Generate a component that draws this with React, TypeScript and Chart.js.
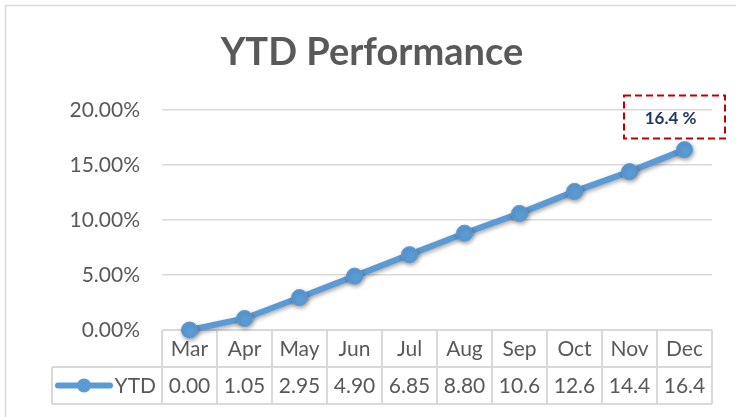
import React, { useEffect, useRef } from "react";
import { Chart, registerables } from "chart.js";

Chart.register(...registerables);

const chartTitle = "YTD Performance";
const seriesName = "YTD";
const months = ["Mar", "Apr", "May", "Jun", "Jul", "Aug", "Sep", "Oct", "Nov", "Dec"];
const ytd = [0, 1.05, 2.95, 4.9, 6.85, 8.8, 10.6, 12.6, 14.4, 16.4];
const ytdLabels = ["0.00", "1.05", "2.95", "4.90", "6.85", "8.80", "10.6", "12.6", "14.4", "16.4"];
const yMin = 0;
const yMax = 20;
const yStep = 5;
const calloutText = "16.4 %";

const LINE = "#5B9BD5";
const TEXT = "#595959";
const GRID = "#D9D9D9";
const FONT = "Lato, 'Open Sans', sans-serif";

const framePlugin = {
  id: "frame",
  beforeDraw(chart: any) {
    const ctx = chart.ctx;
    ctx.save();
    ctx.fillStyle = "#ffffff";
    ctx.fillRect(0, 0, chart.width, chart.height);
    ctx.strokeStyle = GRID;
    ctx.lineWidth = 1.5;
    ctx.strokeRect(5.5, 5.5, chart.width + 20, chart.height + 20);
    // title
    ctx.fillStyle = TEXT;
    ctx.font = `bold 38px ${FONT}`;
    ctx.textAlign = "center";
    ctx.textBaseline = "middle";
    ctx.fillText(chartTitle, chart.width / 2 + 4, 53);
    ctx.restore();
  },
};

const shadowPlugin = {
  id: "lineShadow",
  beforeDatasetDraw(chart: any) {
    const ctx = chart.ctx;
    ctx.save();
    ctx.shadowColor = "rgba(0,0,0,0.35)";
    ctx.shadowBlur = 4;
    ctx.shadowOffsetX = 1;
    ctx.shadowOffsetY = 2;
  },
  afterDatasetDraw(chart: any) {
    chart.ctx.restore();
  },
};

const tablePlugin = {
  id: "dataTable",
  beforeDatasetsDraw(chart: any) {
    const ctx = chart.ctx;
    const area = chart.chartArea;
    const xs = chart.scales.x;
    const n = months.length;
    const cellW = (area.right - area.left) / n;
    const rowH = 37;
    const top = area.bottom;
    const mid = top + rowH;
    const bot = mid + rowH;
    const legendLeft = 52;
    ctx.save();
    ctx.strokeStyle = GRID;
    ctx.lineWidth = 2;
    ctx.beginPath();
    ctx.moveTo(area.left, top);
    ctx.lineTo(area.right, top);
    ctx.moveTo(legendLeft, mid);
    ctx.lineTo(area.right, mid);
    ctx.moveTo(legendLeft, bot);
    ctx.lineTo(area.right, bot);
    ctx.moveTo(legendLeft, mid);
    ctx.lineTo(legendLeft, bot);
    for (let i = 0; i <= n; i++) {
      const x = area.left + i * cellW;
      ctx.moveTo(x, top);
      ctx.lineTo(x, bot);
    }
    ctx.stroke();

    ctx.fillStyle = TEXT;
    ctx.font = `21px ${FONT}`;
    ctx.textAlign = "center";
    ctx.textBaseline = "middle";
    for (let i = 0; i < n; i++) {
      const cx = xs.getPixelForValue(i);
      ctx.fillText(months[i], cx, top + rowH / 2 + 1);
      ctx.fillText(ytdLabels[i], cx, mid + rowH / 2 + 1);
    }
    // legend
    const ly = mid + rowH / 2;
    ctx.strokeStyle = LINE;
    ctx.lineWidth = 6;
    ctx.lineCap = "round";
    ctx.beginPath();
    ctx.moveTo(legendLeft + 6, ly);
    ctx.lineTo(legendLeft + 58, ly);
    ctx.stroke();
    ctx.fillStyle = LINE;
    ctx.beginPath();
    ctx.arc(legendLeft + 32, ly, 7, 0, Math.PI * 2);
    ctx.fill();
    ctx.fillStyle = TEXT;
    ctx.textAlign = "right";
    ctx.fillText(seriesName, area.left - 6, ly + 1);
    ctx.restore();
  },
  afterDraw(chart: any) {
    const ctx = chart.ctx;
    // callout on last point
    const meta = chart.getDatasetMeta(0);
    const last = meta.data[meta.data.length - 1];
    const bw = 101;
    const bh = 43;
    const bx = last.x - 10 - bw / 2;
    const by = last.y - 11 - bh;
    ctx.save();
    ctx.strokeStyle = "#C00000";
    ctx.lineWidth = 2;
    ctx.lineCap = "butt";
    ctx.setLineDash([7, 4]);
    ctx.strokeRect(bx, by, bw, bh);
    ctx.setLineDash([]);
    ctx.fillStyle = "#1F3864";
    ctx.font = `bold 17px ${FONT}`;
    ctx.textAlign = "center";
    ctx.textBaseline = "middle";
    ctx.fillText(calloutText, bx + bw / 2 - 4, by + bh / 2 + 1);
    ctx.restore();
  },
};

export default function App() {
  const ref = useRef<HTMLCanvasElement>(null);
  useEffect(() => {
    if (!ref.current) return;
    const chart = new Chart(ref.current, {
      type: "line",
      data: {
        labels: months,
        datasets: [
          {
            label: seriesName,
            data: ytd,
            borderColor: LINE,
            backgroundColor: LINE,
            borderWidth: 6,
            pointRadius: 8,
            pointBackgroundColor: LINE,
            pointBorderColor: LINE,
            pointBorderWidth: 1,
            tension: 0,
            clip: false,
          } as any,
        ],
      },
      options: {
        responsive: false,
        animation: false,
        layout: { padding: { top: 110, right: 24, bottom: 87, left: 0 } },
        plugins: {
          legend: { display: false },
          title: { display: false },
          tooltip: { enabled: false },
        },
        scales: {
          x: {
            type: "category",
            offset: true,
            grid: { display: false },
            border: { display: false },
            ticks: { display: false },
            afterFit: (scale: any) => {
              scale.height = 0;
            },
          },
          y: {
            min: yMin,
            max: yMax,
            border: { display: false },
            grid: { color: GRID, lineWidth: 1.5, drawTicks: false },
            ticks: {
              stepSize: yStep,
              padding: 22,
              color: TEXT,
              font: { family: FONT, size: 21 },
              callback: (v: any) => Number(v).toFixed(2) + "%",
            },
            afterFit: (scale: any) => {
              scale.width = 162;
            },
          },
        },
      },
      plugins: [framePlugin, shadowPlugin, tablePlugin],
    });
    return () => chart.destroy();
  }, []);
  return (
    <div style={{ position: "absolute", left: 0, top: 0, width: 736, height: 417 }}>
      <canvas ref={ref} width={736} height={417} style={{ display: "block" }} />
    </div>
  );
}
